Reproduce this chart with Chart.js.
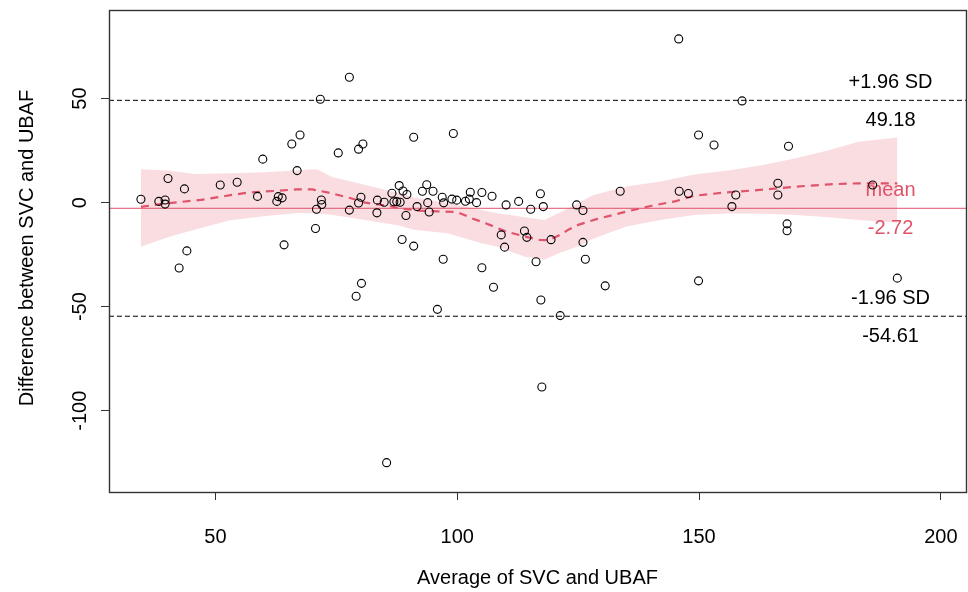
<!DOCTYPE html>
<html>
<head>
<meta charset="utf-8">
<script src="https://cdn.jsdelivr.net/npm/chart.js@4.4.0/dist/chart.umd.min.js"></script>
<style>
  html, body { margin: 0; padding: 0; background: #fff; }
</style>
</head>
<body>
<canvas id="ba-chart" width="968" height="592"></canvas>
<script>
// --- DATA ---
const avgValues = [34.6, 38.3, 39.6, 39.6, 40.2, 42.5, 43.6, 44.1, 51.0, 54.5, 58.7, 59.8, 62.7, 63.0, 63.8, 64.2,
  65.8, 66.9, 67.5, 70.7, 70.9, 71.7, 71.9, 72.0, 75.4, 77.7, 77.7, 79.1, 79.6, 79.6, 80.1, 80.2, 80.5, 83.4, 83.5,
  84.9, 85.4, 86.5, 86.9, 87.5, 88.0, 88.2, 88.6, 88.8, 89.6, 89.4, 91.0, 91.0, 91.7, 92.8, 93.7, 93.9, 94.2, 95.0,
  95.9, 96.9, 97.2, 97.1, 98.9, 99.2, 99.9, 101.7, 102.5, 102.7, 104.0, 105.1, 105.1, 107.2, 107.5, 109.1, 109.8,
  110.1, 112.7, 113.9, 114.4, 115.2, 116.3, 117.2, 117.3, 117.5, 117.8, 119.4, 121.3, 124.7, 126.0, 126.0, 126.5,
  130.6, 133.7, 145.9, 145.8, 147.8, 149.9, 149.9, 153.1, 156.8, 157.6, 158.9, 166.3, 166.3, 168.2, 168.2, 168.5,
  185.9, 191.0];
const diffValues = [1.6, 0.6, 1.3, -0.7, 11.6, -31.4, 6.6, -23.2, 8.5, 9.8, 3.0, 20.9, 0.6, 2.9, 2.3, -20.3,
  28.2, 15.4, 32.5, -12.4, -3.2, 49.7, 1.3, -0.9, 23.9, 60.3, -3.6, -45.0, 25.7, -0.2, 2.6, -38.8, 28.2, -4.9, 1.2,
  0.2, -125.0, 4.5, 0.4, 0.5, 8.2, 0.2, -17.7, 5.6, 3.9, -6.2, 31.4, -20.9, -1.9, 5.5, 8.6, 0.0, -4.5, 5.5,
  -51.3, 2.6, -0.1, -27.2, 1.7, 33.2, 1.2, 0.7, 1.7, 5.0, 0.0, 4.9, -31.3, 3.1, -40.7, -15.5, -21.4,
  -1.1, 0.6, -13.6, -16.7, -3.2, -28.4, 4.3, -46.8, -88.6, -1.9, -17.8, -54.3, -1.1, -3.8, -19.1, -27.2,
  -40.0, 5.5, 5.5, 78.7, 4.4, 32.5, -37.6, 27.7, -1.9, 3.7, 48.9, 9.3, 3.7, -10.2, -13.5, 27.1,
  8.5, -36.3];

// smoothed trend (dashed) and its confidence band
const trendX = [34.6, 40, 47, 52, 57, 62, 67, 70, 74, 78, 81, 85, 89, 92, 96, 100, 103, 106, 110, 114, 117, 119,
  121, 123, 125, 129, 135, 140, 145, 149, 155, 162, 170, 177, 183, 191];
const trendY = [-2.0, -0.3, 1.3, 3.2, 4.9, 5.6, 6.4, 6.4, 4.5, 2.1, 0.0, -1.3, -3.0, -3.8, -4.2, -4.5, -7.5, -10,
  -13.8, -16.3, -17.9, -18.0, -15.8, -13, -10.7, -7.8, -4.3, -1.6, 0.6, 3.3, 4.8, 6.0, 7.7, 8.8, 9.3, 9.3];
const bandX = [34.6, 40, 46, 53, 60, 67, 71, 74, 81, 88, 91, 98, 105, 108, 114, 118, 121, 125, 128, 132, 135,
  142, 149, 156, 163, 170, 177, 183, 191];
const bandLow = [-21.2, -16.8, -12.8, -8.5, -6.5, -5.0, -5.2, -5.8, -8.3, -11, -13, -14.7, -19.5, -21, -26, -27.5,
  -24.3, -21, -17.5, -14, -11.5, -8.3, -5.9, -5.2, -5.3, -5.9, -7.0, -8.3, -9.7];
const bandHigh = [16.1, 15.4, 13.8, 14.1, 14.6, 15.6, 16.1, 12.5, 8.5, 4.5, 2.5, 0, -3.5, -5, -7, -8.3, -5, -0.3,
  3.5, 6, 7.7, 10.1, 13.5, 15.5, 18, 21.3, 25.3, 29.3, 31.3];

const diffMean = -2.72;
const upperLoA = 49.18;
const lowerLoA = -54.61;
const refNames = ['+1.96 SD', 'mean', '-1.96 SD'];
const refValues = [upperLoA, diffMean, lowerLoA];
const refColors = ['#000000', '#DF536B', '#000000'];
const labelAt = 189.6;

const xTicks = [50, 100, 150, 200];
const yTicks = [-100, -50, 0, 50];
const xRange = [28, 205.2];
const yRange = [-139.1, 92.6];

const FONT = '"Liberation Sans", Arial, sans-serif';
const RED = '#DF536B';

const pairs = (xs, ys) => xs.map((v, i) => ({ x: v, y: ys[i] }));
const hline = v => [{ x: xRange[0], y: v }, { x: xRange[1], y: v }];

// --- extra drawing: labels, frame, rotated y ticks, axis titles ---
const annotate = {
    id: 'annotate',
    beforeDatasetsDraw(chart) {
        const { ctx, scales: { x, y } } = chart;
        ctx.save();
        ctx.font = '20px ' + FONT;
        ctx.textAlign = 'center';
        ctx.textBaseline = 'middle';
        const lx = x.getPixelForValue(labelAt);
        refValues.forEach((v, i) => {
            const py = y.getPixelForValue(v);
            ctx.fillStyle = refColors[i];
            ctx.fillText(refNames[i], lx, py - 18);
            ctx.fillText(v.toFixed(2), lx, py + 20.5);
        });
        ctx.restore();
    },
    afterDraw(chart) {
        const { ctx, chartArea: a, scales: { y } } = chart;
        ctx.save();
        ctx.strokeStyle = '#333';
        ctx.lineWidth = 1.4;
        ctx.strokeRect(Math.round(a.left) + 0.5, Math.round(a.top) + 0.5,
            Math.round(a.right - a.left), Math.round(a.bottom - a.top));

        ctx.fillStyle = '#000';
        ctx.font = '20px ' + FONT;
        ctx.textAlign = 'center';
        ctx.textBaseline = 'middle';
        y.ticks.forEach(t => {
            ctx.save();
            ctx.translate(a.left - 29, y.getPixelForValue(t.value));
            ctx.rotate(-Math.PI / 2);
            ctx.fillText(String(t.value), 0, 0);
            ctx.restore();
        });

        ctx.fillText('Average of SVC and UBAF', (a.left + a.right) / 2, 578);
        ctx.save();
        ctx.translate(27, 248);
        ctx.rotate(-Math.PI / 2);
        ctx.fillText('Difference between SVC and UBAF', 0, 0);
        ctx.restore();
        ctx.restore();
    }
};

// --- CHART ---
const ctx = document.getElementById('ba-chart').getContext('2d');
new Chart(ctx, {
    type: 'scatter',
    data: {
        datasets: [
            { data: pairs(avgValues, diffValues), pointRadius: 4, pointHoverRadius: 4, pointStyle: 'circle',
              borderColor: '#000', borderWidth: 1.1, backgroundColor: 'rgba(0,0,0,0)' },
            { data: pairs(trendX, trendY), showLine: true, pointRadius: 0, borderColor: RED,
              borderWidth: 2.2, borderDash: [8, 6], fill: false },
            { data: hline(diffMean), showLine: true, pointRadius: 0, borderColor: RED, borderWidth: 1 },
            { data: hline(upperLoA), showLine: true, pointRadius: 0, borderColor: '#000', borderWidth: 1, borderDash: [5, 3] },
            { data: hline(lowerLoA), showLine: true, pointRadius: 0, borderColor: '#000', borderWidth: 1, borderDash: [5, 3] },
            { data: pairs(bandX, bandLow), showLine: true, pointRadius: 0, borderWidth: 0,
              borderColor: 'rgba(0,0,0,0)', fill: false },
            { data: pairs(bandX, bandHigh), showLine: true, pointRadius: 0, borderWidth: 0,
              borderColor: 'rgba(0,0,0,0)', backgroundColor: 'rgba(223,83,107,0.2)', fill: '-1' }
        ]
    },
    options: {
        responsive: false,
        animation: false,
        events: [],
        layout: { autoPadding: false, padding: { top: 10, right: 2, left: 0, bottom: 0 } },
        plugins: { legend: { display: false }, tooltip: { enabled: false } },
        scales: {
            x: {
                type: 'linear', min: xRange[0], max: xRange[1],
                afterBuildTicks: s => { s.ticks = xTicks.map(v => ({ value: v })); },
                afterFit: s => { s.height = 100; s.paddingLeft = 0; s.paddingRight = 0; },
                grid: { drawOnChartArea: false, tickLength: 8, tickColor: '#333' },
                border: { display: false },
                ticks: { color: '#000', font: { family: FONT, size: 20 }, padding: 25, maxRotation: 0 }
            },
            y: {
                type: 'linear', min: yRange[0], max: yRange[1],
                afterBuildTicks: s => { s.ticks = yTicks.map(v => ({ value: v })); },
                afterFit: s => { s.width = 109; s.paddingTop = 0; s.paddingBottom = 0; },
                grid: { drawOnChartArea: false, tickLength: 8, tickColor: '#333' },
                border: { display: false },
                ticks: { color: 'rgba(0,0,0,0)', font: { family: FONT, size: 20 } }
            }
        }
    },
    plugins: [annotate]
});
</script>
</body>
</html>
